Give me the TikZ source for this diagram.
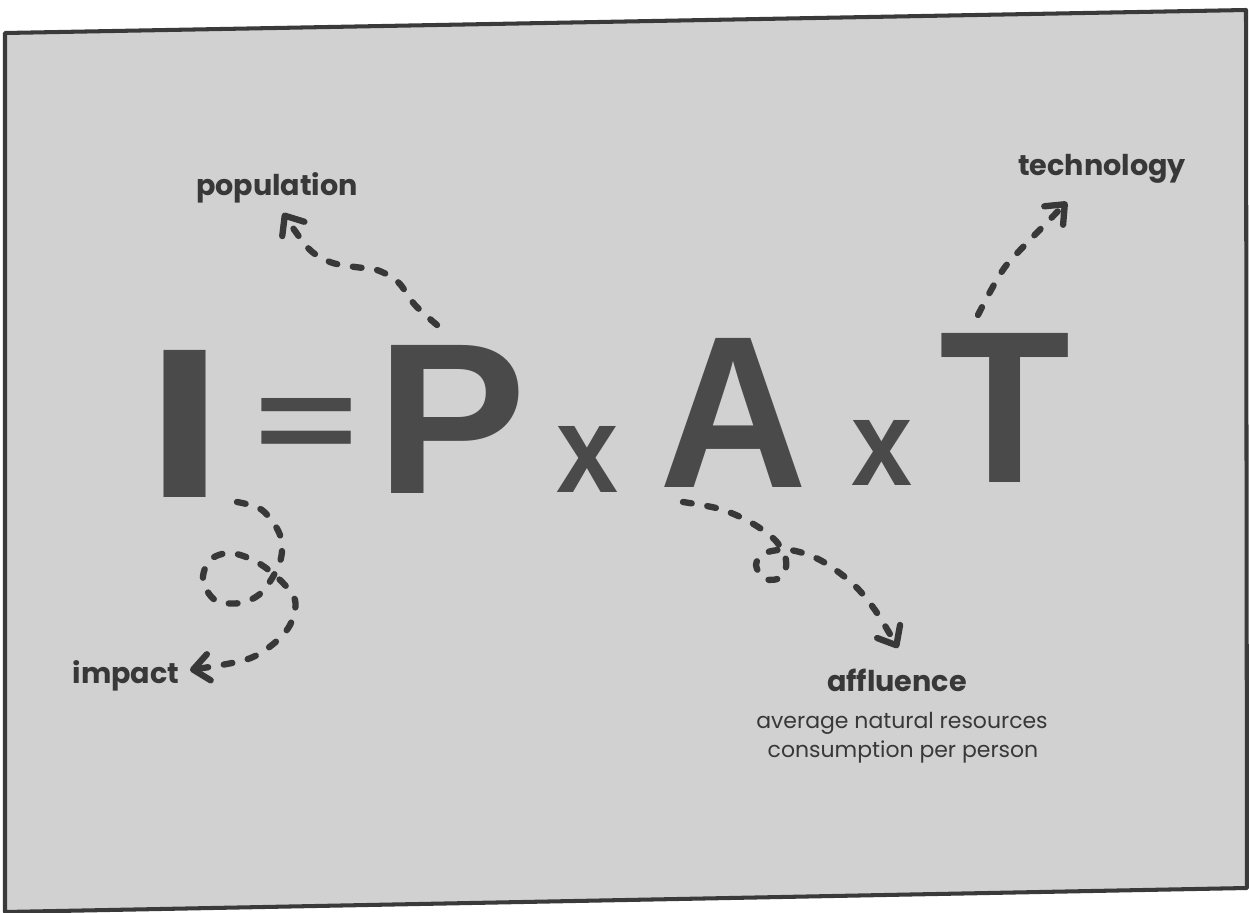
\documentclass[tikz,border=0pt]{standalone}
\usepackage{fontspec}
\setmainfont{Poppins}
\newfontfamily\bigfont{Liberation Sans}
\usetikzlibrary{arrows.meta}
\newlength\pxu
\setlength\pxu{0.02cm}
\definecolor{paper}{HTML}{D1D1D1}
\definecolor{inkc}{HTML}{4A4A4A}
\definecolor{pen}{HTML}{383838}
\definecolor{frameline}{HTML}{3A3A3A}
\begin{document}
\begin{tikzpicture}[x=0.02cm,y=-0.02cm,
  big/.style={inner sep=0pt, text=inkc},
  lbl/.style={inner sep=0pt, anchor=base, text=pen, font=\fontsize{16.3}{18}\selectfont\bfseries},
  sub/.style={inner sep=0pt, anchor=base, text=pen, font=\fontsize{12.5}{15}\selectfont},
  dashy/.style={draw=pen, line width=3.6pt, line cap=round, dash pattern=on 5pt off 9pt,
    -{Straight Barb[length=9pt,width=15pt,round]}},
]
\useasboundingbox (0,0) rectangle (1249,913);
\fill[white] (0,0) rectangle (1249,913);
\filldraw[fill=paper, draw=frameline, line width=2.3pt, line join=round]
  (5,33) -- (1246,10) -- (1247,888) -- (5,912) -- cycle;

% formula
\node[big] (I) at (185,423.5) {\resizebox{81\pxu}{147\pxu}{\bigfont\bfseries I}};
\node[big, anchor=base] (eq) at (306,461) {\resizebox{104\pxu}{63\pxu}{\bigfont\bfseries =}};
\node[big] (P) at (452,419) {\resizebox{150\pxu}{148\pxu}{\bigfont\bfseries P}};
\node[big] (x1) at (587.5,459) {\resizebox{62\pxu}{66\pxu}{\bigfont\bfseries x}};
\node[big] (A) at (734,412.5) {\resizebox{148\pxu}{149\pxu}{\bigfont\bfseries A}};
\node[big] (x2) at (882,452.5) {\resizebox{61\pxu}{65\pxu}{\bigfont\bfseries x}};
\node[big] (T) at (1005,407.5) {\resizebox{131\pxu}{149\pxu}{\bigfont\bfseries T}};

% labels
\node[lbl] (pop) at (277,195) {population};
\node[lbl] (tech) at (1102,175) {technology};
\node[lbl] (imp) at (126,683) {impact};
\node[lbl] (aff) at (897,691) {affluence};
\node[sub] (affa) at (902,728) {average natural resources};
\node[sub] (affb) at (903,757) {consumption per person};

% connectors
\coordinate (pS) at (437,325);
\coordinate (pE) at (283,213);
\draw[dashy] plot[smooth, tension=0.55] coordinates
  {(pS) (415,305) (398,282) (377,270) (355,267) (330,262) (308,248) (pE)};

\coordinate (tS) at (978,315);
\coordinate (tE) at (1067,202);
\draw[dashy] plot[smooth, tension=0.55] coordinates
  {(tS) (990,292) (1005,267) (1025,245) (tE)};

\coordinate (iS) at (237,502);
\coordinate (iE) at (190,670);
\draw[dashy] plot[smooth, tension=0.55] coordinates
  {(iS) (262,510) (280,535) (280,562) (262,592) (240,603) (215,600) (203,580) (210,560)
   (230,553) (255,561) (278,578) (295,600) (290,625) (272,645) (245,660) (iE)};

\coordinate (aS) at (683,502);
\coordinate (aE) at (898,648);
\draw[dashy] plot[smooth, tension=0.55] coordinates
  {(aS) (720,509) (750,522) (775,540) (786,560) (782,577) (765,579) (756,565) (765,553)
   (790,550) (820,560) (852,583) (875,610) (aE)};
\end{tikzpicture}
\end{document}
